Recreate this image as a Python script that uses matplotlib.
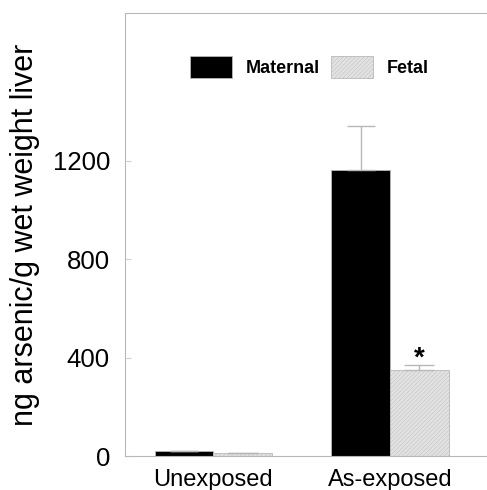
import matplotlib.pyplot as plt
import numpy as np
from matplotlib.patches import Patch

plt.rcParams['font.family'] = ['Liberation Sans', 'DejaVu Sans']
plt.rcParams['hatch.color'] = '#c8c8c8'
plt.rcParams['hatch.linewidth'] = 0.3

groups = ["Unexposed", "As-exposed"]
maternal = [20, 1163]
maternal_err = [2, 180]
fetal = [12, 349]
fetal_err = [2, 20]

x = np.arange(len(groups))
w = 0.333
grey = '#b8b8b8'
fetal_fill = '#e2e2e2'

fig = plt.figure(figsize=(4.87, 4.90), dpi=100)
ax = fig.add_axes([0.257, 0.069, 0.743, 0.904])

ax.bar(x - w / 2, maternal, w, color='black', edgecolor=grey, linewidth=0.6,
       yerr=[np.zeros(2), maternal_err], error_kw=dict(ecolor=grey, elinewidth=1, capsize=10, capthick=1))
ax.bar(x + w / 2, fetal, w, color=fetal_fill, edgecolor=grey, linewidth=0.6, hatch='////////',
       yerr=[np.zeros(2), fetal_err], error_kw=dict(ecolor=grey, elinewidth=1, capsize=10.5, capthick=1))

ax.text(x[1] + w / 2, fetal[1] + fetal_err[1] - 25, '*', ha='center', va='bottom',
        fontsize=20, fontweight='bold')

ax.set_xlim(-0.5, 1.55)
ax.set_ylim(0, 1800)
ax.set_yticks([0, 400, 800, 1200])
ax.set_xticks(x)
ax.set_xticklabels(groups, fontsize=17)
ax.tick_params(axis='x', length=0, pad=9)
ax.tick_params(axis='y', labelsize=18.5, length=4, color='#d0d0d0', direction='in', pad=11)
ax.set_ylabel("ng arsenic/g wet weight liver", fontsize=22, labelpad=9)

for s in ['left', 'bottom', 'top']:
    ax.spines[s].set_color(grey)
    ax.spines[s].set_linewidth(0.8)
ax.spines['right'].set_visible(False)

handles = [Patch(facecolor='black', edgecolor=grey, linewidth=0.6, label='Maternal'),
           Patch(facecolor=fetal_fill, edgecolor=grey, linewidth=0.6, hatch='////////', label='Fetal')]
leg = ax.legend(handles=handles, ncol=2, frameon=False, loc='upper left',
                bbox_to_anchor=(0.135, 0.94), handlelength=2.3, handleheight=1.5,
                columnspacing=0.6, handletextpad=0.8, prop={'weight': 'bold', 'size': 13})

fig.savefig('out.png', dpi=100)
